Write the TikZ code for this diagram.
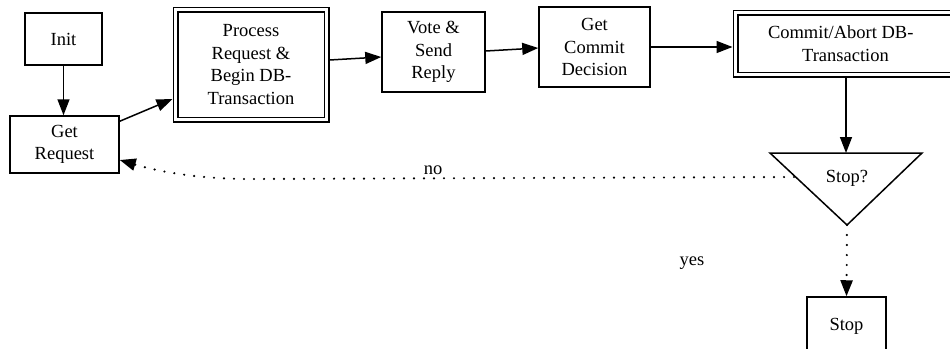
\documentclass[tikz,border=0pt]{standalone}
\usepackage{fontspec}
\setmainfont{Liberation Serif}
\usetikzlibrary{arrows.meta}
\begin{document}
\begin{tikzpicture}[x=1pt,y=-1pt,
  every node/.style={font=\fontsize{18.5}{22.5}\selectfont, align=center, inner sep=0pt},
  sbox/.style={draw, line width=1.5pt, outer sep=0.75pt},
  dbox/.style={draw, line width=1.3pt, double, double distance=3.4pt, outer sep=3pt},
  flow/.style={line width=1.5pt, -{Triangle[length=16pt,width=12pt]}},
  dotflow/.style={line width=2.4pt, line cap=round, dash pattern=on 0pt off 10pt, -{Triangle[length=16pt,width=12pt]}},
  lbl/.style={font=\fontsize{18.5}{22.5}\selectfont}
]
\useasboundingbox (0,0) rectangle (950,348);
\clip (0,0) rectangle (950,348);
\fill[white] (0,0) rectangle (950,348);

\node[sbox, minimum width=77pt, minimum height=52pt] (init) at (63.5,39) {Init};
\node[sbox, minimum width=109pt, minimum height=57pt] (getreq) at (64.5,144.5) {Get\\Request};
\node[dbox, minimum width=151pt, minimum height=110pt] (proc) at (251,64.5) {Process\\Request \&\\Begin DB-\\Transaction};
\node[sbox, minimum width=103pt, minimum height=80pt] (vote) at (433.5,52) {Vote \&\\Send\\Reply};
\node[sbox, minimum width=111pt, minimum height=80pt] (getcom) at (594.5,47) {Get\\Commit\\Decision};
\node[dbox, minimum width=220pt, minimum height=62pt] (commit) at (845.5,43.5) {\makebox[155pt][l]{Commit/Abort DB-}\\Transaction};

\coordinate (tl) at (770,153);
\coordinate (tr) at (922,153);
\coordinate (tb) at (847,225);
\coordinate (ttop) at (846,153);
\coordinate (tleft) at (794,177);
\coordinate (nobend) at (250,179);
\draw[line width=1.5pt, line join=miter] (tl) -- (tr) -- (tb) -- cycle;
\node (stopq) at (847,178) {Stop?};

\node[sbox, minimum width=79pt, minimum height=58pt] (stop) at (846.5,326) {Stop};

\draw[flow] (init.south) -- (init.south |- getreq.north);
\draw[flow] ([yshift=-6pt]getreq.north east) -- ([yshift=-34.5pt]proc.west);
\draw[flow] ([yshift=4.5pt]proc.east) -- ([yshift=-5pt]vote.west);
\draw[flow] ([yshift=1pt]vote.east) -- ([yshift=-1pt]getcom.west);
\draw[flow] (getcom.east) -- (getcom.east -| commit.west);
\draw[flow] (commit.south -| ttop) -- (ttop);

\draw[dotflow] (tleft) -- (nobend) .. controls (200,179) and (160,172) .. ([yshift=-15.5pt]getreq.east);
\draw[dotflow] (tb) -- (stop.north);

\node[lbl] (no) at (433,170) {no};
\node[lbl] (yes) at (692,263) {yes};
\end{tikzpicture}
\end{document}
